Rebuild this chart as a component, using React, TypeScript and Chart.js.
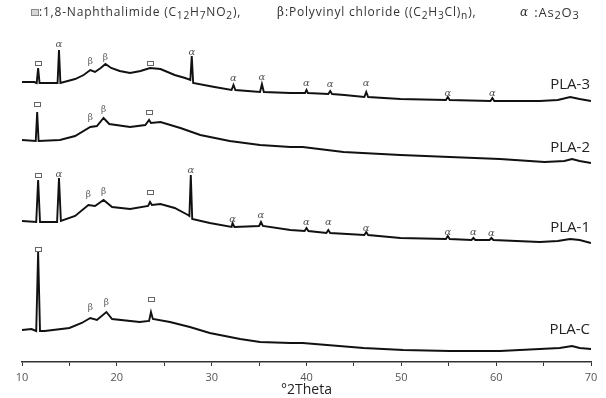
import { useEffect, useRef } from 'react';
import { Chart, registerables } from 'chart.js';
Chart.register(...registerables);

// ---- data: 2θ positions and intensities (arbitrary units, stacked offsets included) ----
const theta3 = [10.0, 11.3, 11.55, 11.7, 11.85, 13.0, 13.75, 13.9, 14.05, 15.6, 16.5, 17.2, 17.7, 18.3, 18.8, 19.4, 20.3, 21.4, 22.5, 23.5, 24.6, 26.1, 27.2, 27.75, 27.9, 28.05, 30.3, 32.1, 32.3, 32.5, 35.1, 35.3, 35.5, 38.3, 39.85, 40.0, 40.15, 42.3, 42.5, 42.7, 44.0, 46.1, 46.3, 46.5, 49.9, 54.7, 54.9, 55.1, 59.4, 59.6, 59.8, 64.6, 66.5, 67.8, 68.8, 70.0];
const pla3 = [280, 280, 279, 294, 279, 279, 279, 312, 279, 283, 287, 292, 290, 294, 298, 294, 291, 289, 291, 294, 293, 287, 284, 282, 306, 279, 275, 272, 277, 272, 270, 278, 270, 269, 269, 272, 269, 268, 271, 268, 267, 265, 270, 265, 263, 262, 265, 262, 261, 264, 261, 261, 262, 265, 263, 261];

const theta2 = [10.0, 11.45, 11.6, 11.75, 14.0, 15.6, 17.2, 17.9, 18.6, 19.2, 21.4, 23.0, 23.4, 23.6, 24.6, 26.7, 28.8, 31.9, 35.1, 38.3, 39.6, 43.9, 49.9, 55.1, 60.4, 65.1, 67.2, 68.0, 68.8, 70.0];
const pla2 = [222, 221, 250, 221, 222, 226, 235, 236, 244, 238, 235, 237, 242, 239, 240, 234, 227, 221, 217, 215, 215, 210, 207, 205, 203, 200, 201, 203, 201, 199];

const theta1 = [10.0, 11.5, 11.7, 11.9, 13.7, 13.9, 14.1, 15.6, 17.0, 17.7, 18.6, 19.5, 21.4, 23.3, 23.5, 23.7, 24.6, 26.1, 27.5, 27.65, 27.8, 27.95, 29.8, 32.1, 32.2, 32.4, 35.0, 35.2, 35.4, 38.3, 39.8, 40.0, 40.2, 42.1, 42.3, 42.5, 46.1, 46.3, 46.5, 49.9, 54.7, 54.9, 55.1, 57.4, 57.6, 57.8, 59.3, 59.5, 59.7, 64.6, 66.5, 67.8, 68.8, 70.0];
const pla1 = [141, 140, 182, 140, 140, 184, 141, 146, 157, 156, 162, 155, 153, 156, 160, 157, 158, 154, 147, 146, 187, 143, 139, 135, 139, 135, 136, 140, 136, 132, 131, 134, 131, 129, 132, 129, 127, 130, 127, 124, 123, 126, 123, 122, 124, 122, 122, 124, 122, 120, 121, 123, 122, 119];

const thetaC = [10.0, 11.0, 11.5, 11.7, 11.9, 12.4, 15.0, 16.3, 17.2, 17.9, 18.9, 19.5, 22.4, 23.4, 23.6, 23.8, 25.6, 27.7, 29.8, 33.0, 35.1, 38.3, 39.6, 46.0, 50.2, 55.1, 60.4, 64.6, 66.7, 68.0, 68.8, 70.0];
const plaC = [32, 33, 31, 110, 31, 31, 34, 39, 44, 42, 50, 43, 40, 41, 50, 43, 40, 35, 29, 23, 20, 19, 19, 14, 12, 11, 11, 13, 14, 16, 14, 13];

const seriesNames = ['PLA-3', 'PLA-2', 'PLA-1', 'PLA-C'];

// peak markers: s = 1,8-Naphthalimide, b = PVC, a = As2O3
const mk3Theta = [11.7, 13.9, 17.2, 18.8, 23.5, 27.9, 32.3, 35.3, 40.0, 42.5, 46.3, 54.9, 59.6];
const mk3Int = [299, 318, 300, 304, 299, 310, 284, 285, 279, 278, 279, 269, 269];
const mk3Sym = ['s', 'a', 'b', 'b', 's', 'a', 'a', 'a', 'a', 'a', 'a', 'a', 'a'];

const mk2Theta = [11.6, 17.2, 18.6, 23.4];
const mk2Int = [258, 244, 252, 250];
const mk2Sym = ['s', 'b', 'b', 's'];

const mk1Theta = [11.7, 13.9, 17.0, 18.6, 23.5, 27.8, 32.2, 35.2, 40.0, 42.3, 46.3, 54.9, 57.6, 59.5];
const mk1Int = [187, 188, 167, 170, 170, 192, 143, 147, 140, 140, 134, 130, 130, 129];
const mk1Sym = ['s', 'a', 'b', 'b', 's', 'a', 'a', 'a', 'a', 'a', 'a', 'a', 'a', 'a'];

const mkCTheta = [11.7, 17.2, 18.9, 23.6];
const mkCInt = [113, 54, 59, 63];
const mkCSym = ['s', 'b', 'b', 's'];

const labelLevels = [277, 214, 134, 32];

type Seg = [string, boolean];

function drawRich(ctx: CanvasRenderingContext2D, x: number, y: number, segs: Seg[], size: number, family: string) {
  let cx = x;
  ctx.textAlign = 'left';
  ctx.textBaseline = 'middle';
  for (const [t, sub] of segs) {
    ctx.font = `${sub ? size * 0.85 : size}px ${family}`;
    ctx.fillText(t, cx, sub ? y + 3 : y);
    cx += ctx.measureText(t).width;
  }
  return cx;
}

export default function App() {
  const ref = useRef<HTMLCanvasElement>(null);
  useEffect(() => {
    if (!ref.current) return;
    const mkData = (xs: number[], ys: number[]) => xs.map((x, i) => ({ x, y: ys[i] }));
    const markerSets = [
      [mk3Theta, mk3Int, mk3Sym],
      [mk2Theta, mk2Int, mk2Sym],
      [mk1Theta, mk1Int, mk1Sym],
      [mkCTheta, mkCInt, mkCSym],
    ] as [number[], number[], string[]][];

    const overlay = {
      id: 'overlay',
      afterDatasetsDraw(chart: any) {
        const ctx: CanvasRenderingContext2D = chart.ctx;
        const xs = chart.scales.x;
        const ys = chart.scales.y;
        ctx.save();
        // peak markers
        for (const [th, it, sy] of markerSets) {
          th.forEach((t, i) => {
            const px = xs.getPixelForValue(t);
            const py = ys.getPixelForValue(it[i]);
            ctx.fillStyle = '#555';
            ctx.strokeStyle = '#666';
            ctx.textAlign = 'center';
            ctx.textBaseline = 'middle';
            if (sy[i] === 'a') {
              ctx.font = 'italic 10px "DejaVu Serif"';
              ctx.fillText('α', px, py);
            } else if (sy[i] === 'b') {
              ctx.font = '9px "DejaVu Serif"';
              ctx.fillText('β', px, py);
            } else {
              ctx.lineWidth = 1;
              ctx.strokeRect(Math.round(px) - 3 + 0.5, Math.round(py) - 2 + 0.5, 6, 4);
            }
          });
        }
        // series labels
        ctx.fillStyle = '#222';
        ctx.font = '15px "Open Sans"';
        ctx.textAlign = 'right';
        ctx.textBaseline = 'middle';
        seriesNames.forEach((n, i) => {
          ctx.fillText(n, xs.right - 1, ys.getPixelForValue(labelLevels[i]));
        });
        // phase key at top
        const fam = '"Open Sans"';
        (ctx as any).letterSpacing = '0.8px';
        ctx.fillStyle = '#d8d8d8';
        ctx.fillRect(31, 9, 8, 7);
        ctx.strokeStyle = '#888';
        ctx.lineWidth = 1;
        ctx.strokeRect(31.5, 9.5, 7, 6);
        ctx.fillStyle = '#333';
        drawRich(ctx, 39, 13, [[':1,8-Naphthalimide (C', false], ['12', true], ['H', false], ['7', true], ['NO', false], ['2', true], ['),', false]], 12, fam);
        ctx.font = '12px "DejaVu Serif"';
        ctx.textAlign = 'left';
        ctx.fillText('β', 277, 13);
        drawRich(ctx, 285, 13, [[':Polyvinyl chloride ((C', false], ['2', true], ['H', false], ['3', true], ['Cl)', false], ['n', true], ['),', false]], 12, fam);
        ctx.font = 'italic 12px "DejaVu Serif"';
        ctx.textAlign = 'left';
        ctx.fillText('α', 520, 13);
        drawRich(ctx, 530, 13, [[' :As', false], ['2', true], ['O', false], ['3', true]], 13, fam);
        (ctx as any).letterSpacing = '0px';
        ctx.restore();
      },
    };

    const lineStyle = { borderColor: '#111', borderWidth: 1.9, pointRadius: 0, tension: 0, fill: false };
    const chart = new Chart(ref.current, {
      type: 'line',
      data: {
        datasets: [
          { label: seriesNames[0], data: mkData(theta3, pla3), ...lineStyle },
          { label: seriesNames[1], data: mkData(theta2, pla2), ...lineStyle },
          { label: seriesNames[2], data: mkData(theta1, pla1), ...lineStyle },
          { label: seriesNames[3], data: mkData(thetaC, plaC), ...lineStyle },
        ],
      },
      options: {
        animation: false,
        responsive: false,
        layout: { padding: { left: 22, right: 15, top: 10, bottom: 0 } },
        plugins: { legend: { display: false }, tooltip: { enabled: false } },
        scales: {
          x: {
            type: 'linear',
            min: 10,
            max: 70,
            ticks: {
              stepSize: 5,
              autoSkip: false,
              maxRotation: 0,
              callback: (v: any) => (Number(v) % 10 === 0 ? String(v) : ''),
              color: '#555',
              font: { family: 'Open Sans', size: 11 },
              padding: 5,
            },
            grid: { display: true, drawOnChartArea: false, drawTicks: true, tickLength: 4, color: '#333', lineWidth: 1 },
            border: { display: true, color: '#333', width: 1.5 },
            title: { display: true, text: '°2Theta', color: '#222', font: { family: 'Open Sans', size: 14 }, padding: { top: 0, bottom: 0 } },
            afterFit: (s: any) => { s.height = 36; },
          },
          y: { display: false, min: 0, max: 352 },
        },
      },
      plugins: [overlay],
    });
    return () => chart.destroy();
  }, []);
  return (
    <div style={{ position: 'fixed', left: 0, top: 0, width: 606, height: 398, background: '#fff' }}>
      <canvas ref={ref} width={606} height={398} />
    </div>
  );
}
